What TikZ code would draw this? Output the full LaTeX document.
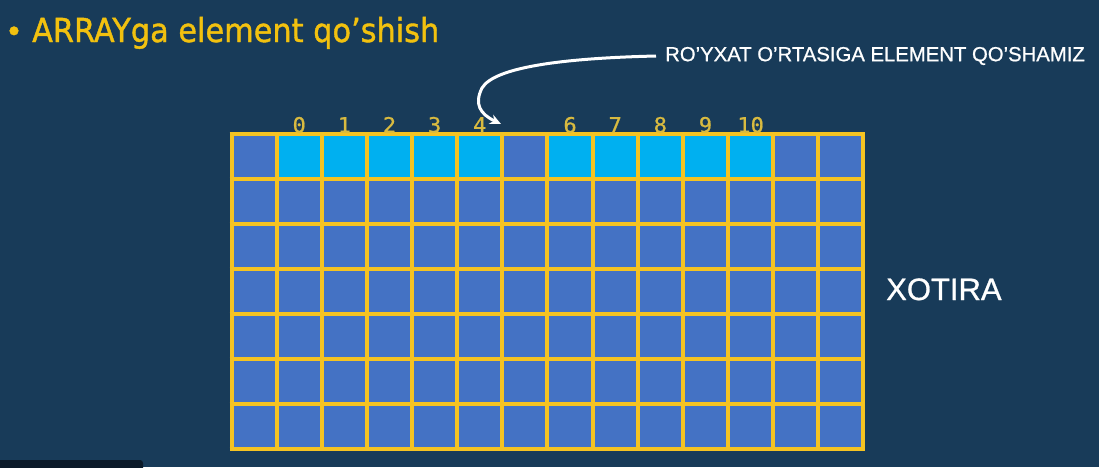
\documentclass[tikz,border=0pt]{standalone}
\usepackage{fontspec}
\setmainfont{Liberation Sans}[FakeBold=0.8]
\newfontfamily\titlefont{DejaVu Sans}[FakeBold=1.2]
\newfontfamily\digitfont{DejaVu Sans Mono}[FakeBold=0.8]
\usetikzlibrary{arrows.meta}
\definecolor{bgc}{HTML}{183B59}
\definecolor{cellblue}{HTML}{4472C4}
\definecolor{cellcyan}{HTML}{00B0F0}
\definecolor{gridyellow}{HTML}{F5C322}
\definecolor{titleyellow}{HTML}{F2C10F}
\definecolor{digityellow}{HTML}{D8BA40}
\definecolor{darkbar}{HTML}{0B1A29}
\tikzset{
  digit/.style={anchor=base, text=digityellow, font=\digitfont\fontsize{21}{21}\selectfont, inner sep=0pt, xscale=1.05},
  gridline/.style={draw=gridyellow, line width=4pt},
}
\begin{document}
\begin{tikzpicture}[x=1pt,y=-1pt]
\fill[bgc] (0,0) rectangle (1099,467);
\useasboundingbox (0,0) rectangle (1099,467);
% bottom-left dark bar
\fill[darkbar, rounded corners=3pt] (-5,460) rectangle (143,472);
% title
\node[anchor=base, text=titleyellow, font=\titlefont\fontsize{30}{30}\selectfont, inner sep=0pt] (bullet) at (14,42) {•};
\node[anchor=base west, text=titleyellow, font=\titlefont\fontsize{33}{33}\selectfont, inner sep=0pt, xscale=0.92] (title) at (32,42) {ARRAYga element qo’shish};
% grid
\def\cw{45.14}
\def\ch{45}
\def\gx{231.5}
\def\gy{134}
\foreach \r in {0,...,6}{
  \foreach \c in {0,...,13}{
    \fill[cellblue] ({\gx+\c*\cw},{\gy+\r*\ch}) rectangle ++(\cw,\ch);
  }
}
\foreach \c in {1,...,5,7,8,9,10,11}{
  \fill[cellcyan] ({\gx+\c*\cw},{\gy}) rectangle ++(\cw,\ch);
}
\foreach \c in {0,...,14}{
  \draw[gridline] ({\gx+\c*\cw},{\gy-2}) -- ({\gx+\c*\cw},{\gy+7*\ch+2});
}
\foreach \r in {0,...,7}{
  \draw[gridline] ({\gx-2},{\gy+\r*\ch}) -- ({\gx+14*\cw+2},{\gy+\r*\ch});
}
% index labels
\foreach \c/\t in {1/0,2/1,3/2,4/3,5/4,7/6,8/7,9/8,10/9,11/10}{
  \node[digit] (d\t) at ({\gx+(\c+0.5)*\cw},132.5) {\t};
}
% annotation
\node[anchor=west, text=white, font=\fontsize{20.3}{20.3}\selectfont, inner sep=0pt] (note) at (665,56) {RO’YXAT O’RTASIGA ELEMENT QO’SHAMIZ};
\coordinate (tip) at (501,124);
\draw[white, line width=3pt, -{Stealth[length=11pt,width=10pt]}] ([xshift=-9pt]note.west) .. controls (570,58) and (495,66) .. (482,88) .. controls (474,104) and (480,114) .. (tip);
% memory label
\node[anchor=base west, text=white, font=\fontsize{31}{31}\selectfont, inner sep=0pt] (mem) at (886,300) {XOTIRA};
\end{tikzpicture}
\end{document}
